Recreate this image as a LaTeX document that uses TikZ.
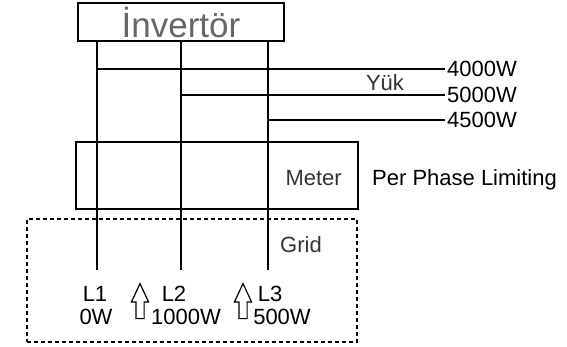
\documentclass[tikz,border=0pt]{standalone}
\usepackage{fontspec}
\setmainfont{Liberation Sans}
\usetikzlibrary{shapes.arrows}

\begin{document}
\begin{tikzpicture}[x=1pt,y=-1pt,
  box/.style={draw,line width=1.2pt,inner sep=0pt},
  lbl/.style={font=\fontsize{22}{24}\selectfont,inner sep=0pt},
  glbl/.style={lbl,text=black!80},
  wire/.style={line width=1.2pt},
  uparr/.style={draw,line width=1.2pt,single arrow,shape border rotate=90,minimum height=35pt,single arrow head extend=4.5pt,single arrow tip angle=50,inner sep=0pt}
]
\useasboundingbox (0,0) rectangle (567,347);

% inverter and phases
\node[box,minimum width=206pt,minimum height=38pt,font=\fontsize{35}{37}\selectfont,text=black!60] (inv) at (181,22) {İnvertör};
\coordinate (e1) at (97,270);
\coordinate (e2) at (181,270);
\coordinate (e3) at (268,270);
\draw[wire] (inv.south -| e1) -- (e1);
\draw[wire] (inv.south -| e2) -- (e2);
\draw[wire] (inv.south -| e3) -- (e3);

% loads
\node[lbl,anchor=west] (w1) at (447,69) {4000W};
\node[lbl,anchor=west] (w2) at (447,95) {5000W};
\node[lbl,anchor=west] (w3) at (447,120) {4500W};
\draw[wire] (w1.west -| e1) -- ([xshift=-2pt]w1.west);
\draw[wire] (w2.west -| e2) -- ([xshift=-2pt]w2.west);
\draw[wire] (w3.west -| e3) -- ([xshift=-2pt]w3.west);
\node[glbl] (yuk) at (385,83) {Yük};

% meter
\node[box,minimum width=282pt,minimum height=67pt] (meter) at (217,175.5) {};
\node[glbl,anchor=east] (mtxt) at (342,178) {Meter};
\node[lbl,anchor=west] (ppl) at (372,180) {Per Phase Limiting};

% grid
\node[box,dashed,dash pattern=on 4pt off 3pt,minimum width=330pt,minimum height=123pt] (grid) at (192,280.5) {};
\node[glbl] (gtxt) at (301,245) {Grid};
\node[lbl] (l1) at (95,294) {L1};
\node[lbl] (p1) at (96,317) {0W};
\node[lbl] (l2) at (174,294) {L2};
\node[lbl] (p2) at (186,317) {1000W};
\node[lbl] (l3) at (270,294) {L3};
\node[lbl] (p3) at (282,317) {500W};
\node[uparr] (a1) at (140,305.5) {\rule{7pt}{0pt}};
\node[uparr] (a2) at (243,305.5) {\rule{7pt}{0pt}};
\end{tikzpicture}
\end{document}
